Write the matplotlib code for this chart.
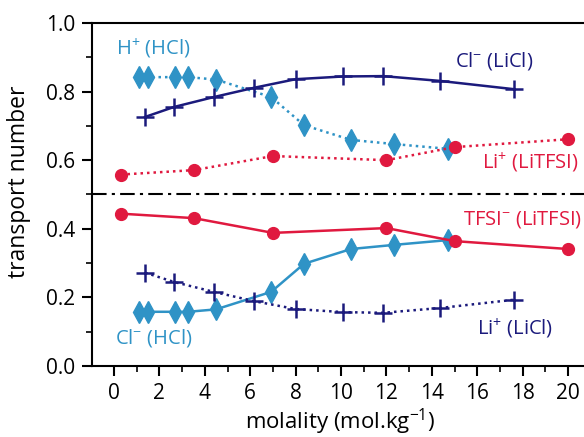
import matplotlib
matplotlib.use("Agg")
import matplotlib.pyplot as plt
from matplotlib.ticker import MultipleLocator, FormatStrFormatter

plt.rcParams['font.family'] = ['Open Sans', 'DejaVu Sans']
plt.rcParams['mathtext.fontset'] = 'custom'
plt.rcParams['mathtext.rm'] = 'Open Sans'
plt.rcParams['mathtext.default'] = 'regular'

NAVY = '#1b1a7c'
BLUE = '#2f93c6'
RED = '#e0193f'

# LiCl
m_licl = [1.37, 2.64, 4.4, 6.17, 8.0, 10.1, 11.85, 14.36, 17.6]
t_cl_licl = [0.726, 0.755, 0.784, 0.811, 0.836, 0.844, 0.845, 0.831, 0.807]
t_li_licl = [0.272, 0.245, 0.216, 0.189, 0.166, 0.157, 0.155, 0.169, 0.193]

# HCl
m_hcl = [1.1, 1.5, 2.7, 3.26, 4.49, 6.92, 8.37, 10.44, 12.33, 14.71]
t_h_hcl = [0.842, 0.842, 0.842, 0.842, 0.835, 0.784, 0.702, 0.659, 0.647, 0.633]
t_cl_hcl = [0.158, 0.158, 0.158, 0.158, 0.165, 0.216, 0.298, 0.341, 0.353, 0.367]

# LiTFSI
m_litfsi = [0.31, 3.52, 7.0, 12.0, 15.0, 20.0]
t_li_litfsi = [0.558, 0.571, 0.612, 0.600, 0.638, 0.661]
t_tfsi_litfsi = [0.444, 0.431, 0.388, 0.402, 0.364, 0.341]

fig = plt.figure(figsize=(5.84, 4.37), dpi=100)
ax = fig.add_axes([0.1575, 0.1625, 0.8425, 0.785])

dotted = (0, (1.0, 1.6))
lw = 1.8

ax.axhline(0.5, color='black', lw=1.5, ls=(0, (7, 2.5, 1.5, 2.5)), zorder=1)

ax.plot(m_licl, t_cl_licl, color=NAVY, lw=lw, ls='-', marker='+', ms=13, mew=1.8, zorder=3)
ax.plot(m_licl, t_li_licl, color=NAVY, lw=lw, ls=dotted, marker='+', ms=13, mew=1.8, zorder=3)

ax.plot(m_hcl, t_h_hcl, color=BLUE, lw=lw, ls=dotted, marker='d', ms=11, zorder=2)
ax.plot(m_hcl, t_cl_hcl, color=BLUE, lw=lw, ls='-', marker='d', ms=11, zorder=2)

ax.plot(m_litfsi, t_li_litfsi, color=RED, lw=lw, ls=dotted, marker='o', ms=8.5, zorder=2)
ax.plot(m_litfsi, t_tfsi_litfsi, color=RED, lw=lw, ls='-', marker='o', ms=8.5, zorder=2)

fs = 14.5
ax.text(0.09, 0.925, r'H$^{+}$ (HCl)', color=BLUE, fontsize=fs, ha='left', va='center')
ax.text(15.0, 0.888, r'Cl$^{-}$ (LiCl)', color=NAVY, fontsize=fs, ha='left', va='center')
ax.text(16.2, 0.592, r'Li$^{+}$ (LiTFSI)', color=RED, fontsize=fs, ha='left', va='center')
ax.text(15.37, 0.426, r'TFSI$^{-}$ (LiTFSI)', color=RED, fontsize=fs, ha='left', va='center')
ax.text(0.04, 0.082, r'Cl$^{-}$ (HCl)', color=BLUE, fontsize=fs, ha='left', va='center')
ax.text(16.0, 0.108, r'Li$^{+}$ (LiCl)', color=NAVY, fontsize=fs, ha='left', va='center')

ax.set_xlim(-0.97, 20.7)
ax.set_ylim(0.0, 1.0)
ax.xaxis.set_major_locator(MultipleLocator(2))
ax.xaxis.set_minor_locator(MultipleLocator(1))
ax.yaxis.set_major_locator(MultipleLocator(0.2))
ax.yaxis.set_minor_locator(MultipleLocator(0.1))
ax.yaxis.set_major_formatter(FormatStrFormatter('%.1f'))

ax.spines['right'].set_visible(False)
for s in ('left', 'bottom', 'top'):
    ax.spines[s].set_linewidth(1.5)

ax.tick_params(which='major', direction='out', length=7, width=1.5, labelsize=15, pad=5)
ax.tick_params(which='minor', direction='out', length=4, width=1.2)
ax.tick_params(top=False, which='both')

ax.set_xlabel(r'molality (mol.kg$^{-1}$)', fontsize=16, va='center')
ax.xaxis.set_label_coords(0.504, -0.163)
ax.set_ylabel('transport number', fontsize=16.5, va='center')
ax.yaxis.set_label_coords(-0.148, 0.536)

fig.savefig('out.png', dpi=100)
